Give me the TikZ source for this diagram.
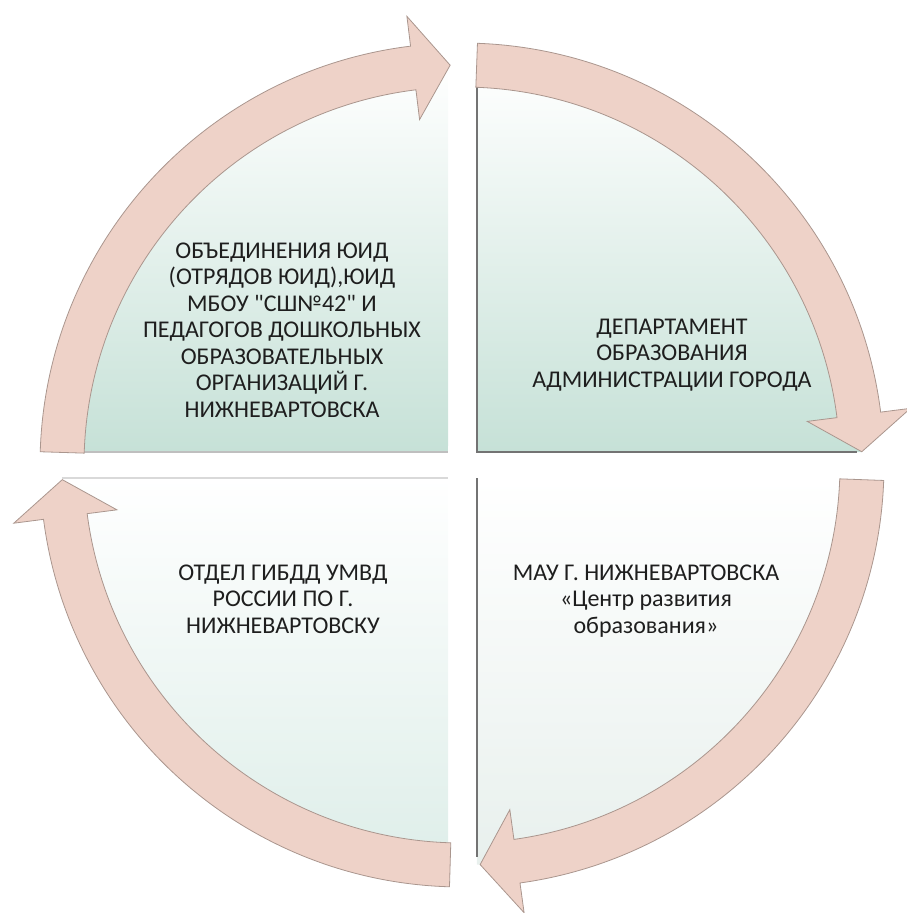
\documentclass[tikz,border=0pt]{standalone}
\usepackage{fontspec}
\setmainfont{Carlito}
\definecolor{arrowpink}{RGB}{238,210,200}
\definecolor{arrowedge}{RGB}{170,150,142}
\definecolor{quadgreen}{RGB}{198,225,215}
\definecolor{quadpale}{RGB}{222,238,233}
\definecolor{quadwhite}{RGB}{232,240,237}
\definecolor{txtgray}{RGB}{30,30,30}
\tikzset{
    quad/.style={top color=white, bottom color=#1, draw=none},
    ringarrow/.style={fill=arrowpink, draw=arrowedge, line width=0.8pt, line join=miter},
    edgeline/.style={draw=#1, line width=1.2pt},
    lbl/.style={font=\fontsize{24}{26.5}\selectfont, align=center, text=txtgray}
}
% tail angle, tip angle
\newcommand{\cycarrow}[2]{%
    \pgfmathsetmacro{\hb}{#2+5.3}
    \draw[ringarrow] (#1:378) arc (#1:\hb:378) -- (\hb:348) -- (#2:400)
        -- (\hb:452) -- (\hb:422) arc (\hb:#1:422) -- cycle;}
\begin{document}
\begin{tikzpicture}[x=1pt,y=1pt]
            \useasboundingbox (-462,-448) rectangle (444,465);

            % quadrants
            \begin{scope}
                \path[quad=quadgreen] (-14,13) -- (178.1:400) arc (178.1:92:400) -- cycle;
                \path[quad=quadgreen] (15,13) -- (87.85:400) arc (87.85:1.86:400) -- cycle;
                \path[quad=quadwhite] (15,-13) -- (-1.86:400) arc (-1.86:-87.85:400) -- cycle;
                \path[quad=quadpale] (-14,-13) -- (-92:400) arc (-92:-178.1:400) -- cycle;
                \draw[edgeline=black!25] (-385,13) -- (-14,13);
                \draw[edgeline=black!55] (15,385) -- (15,13) -- (395,13);
                \draw[edgeline=black!55] (15,-13) -- (15,-392);
                \draw[edgeline=black!15] (-400,-13) -- (-14,-13);
            \end{scope}

            % arrows
            \begin{scope}
                \cycarrow{178.2}{91.7}
                \cycarrow{87.9}{1.9}
                \cycarrow{-2.1}{-87.4}
                \cycarrow{-91.7}{-177.9}
            \end{scope}

            \begin{scope}[every node/.style={lbl}]
                \node (yuid) at (-180,135) {ОБЪЕДИНЕНИЯ ЮИД\\(ОТРЯДОВ ЮИД),ЮИД\\МБОУ \textquotedbl СШ№42\textquotedbl{} И\\ПЕДАГОГОВ ДОШКОЛЬНЫХ\\ОБРАЗОВАТЕЛЬНЫХ\\ОРГАНИЗАЦИЙ Г.\\НИЖНЕВАРТОВСКА};
                \node (dept) at (210,110) {ДЕПАРТАМЕНТ\\ОБРАЗОВАНИЯ\\АДМИНИСТРАЦИИ ГОРОДА};
                \node (mau) at (184,-136) {МАУ Г. НИЖНЕВАРТОВСКА\\«Центр развития\\образования»};
                \node (gibdd) at (-179,-134) {ОТДЕЛ ГИБДД УМВД\\РОССИИ ПО Г.\\НИЖНЕВАРТОВСКУ};
            \end{scope}
\end{tikzpicture}
\end{document}
